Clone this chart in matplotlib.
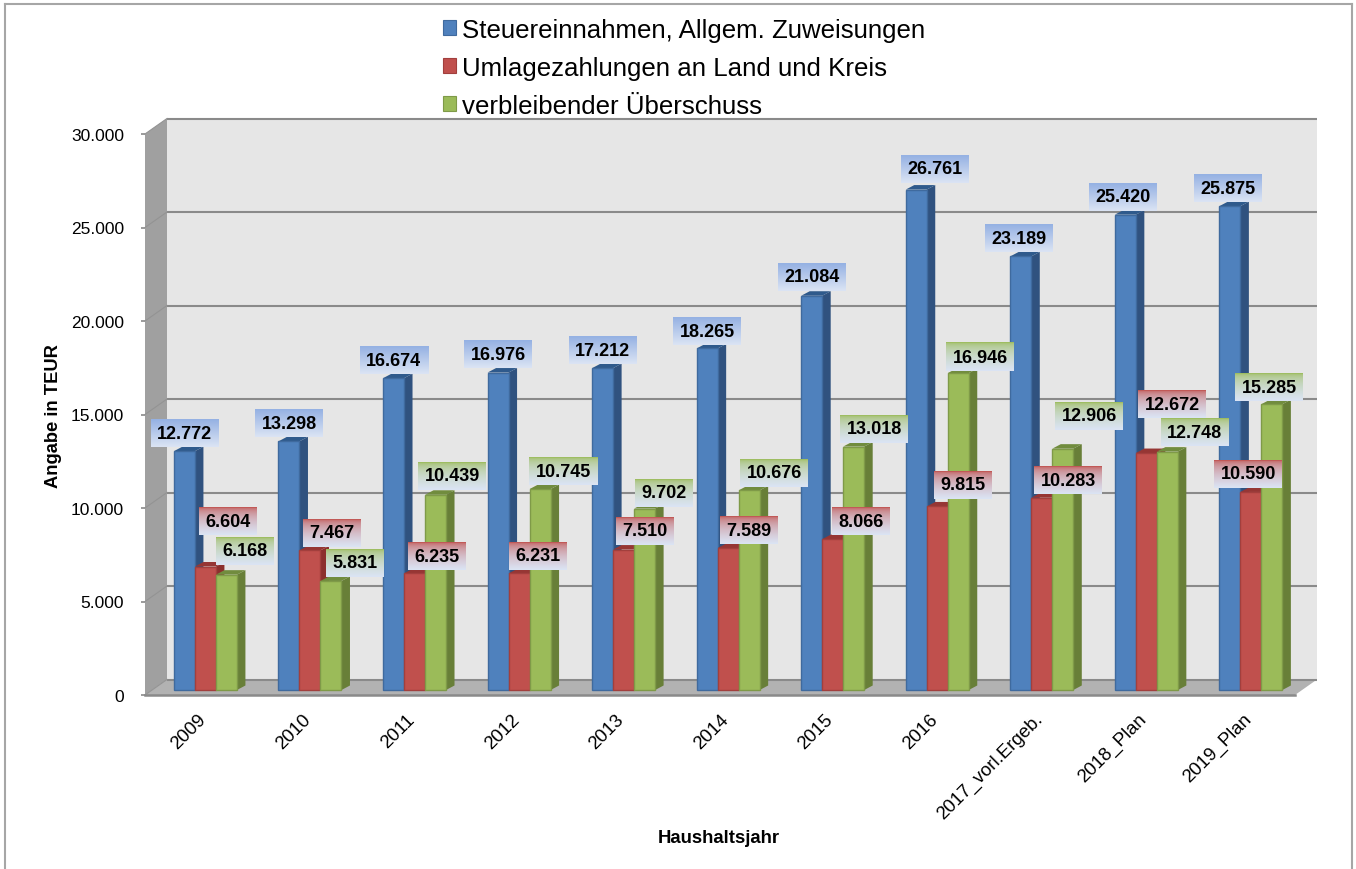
#!/usr/bin/env python3
"""Haushaltsjahr chart: three series as fake-3D bars with gradient value labels."""

import numpy as np
import matplotlib
matplotlib.use('Agg')
import matplotlib.pyplot as plt
from matplotlib.colors import to_rgb
from matplotlib.lines import Line2D
from matplotlib.patches import Patch

plt.rcParams['font.family'] = ['Liberation Sans', 'DejaVu Sans']

# ── Data ─────────────────────────────────────────────────────────────────────

years = ['2009', '2010', '2011', '2012', '2013', '2014', '2015', '2016',
         '2017_vorl.Ergeb.', '2018_Plan', '2019_Plan']
steuern = [12772, 13298, 16674, 16976, 17212, 18265, 21084, 26761, 23189, 25420, 25875]
umlagen = [6604, 7467, 6235, 6231, 7510, 7589, 8066, 9815, 10283, 12672, 10590]
ueberschuss = [6168, 5831, 10439, 10745, 9702, 10676, 13018, 16946, 12906, 12748, 15285]
series_names = ['Steuereinnahmen, Allgem. Zuweisungen',
                'Umlagezahlungen an Land und Kreis',
                'verbleibender Überschuss']
y_ticks = [0, 5000, 10000, 15000, 20000, 25000, 30000]
y_tick_labels = ['0', '5.000', '10.000', '15.000', '20.000', '25.000', '30.000']

# ── Layout (pixels unless noted) ─────────────────────────────────────────────

W, H = 1356, 870
LEFT, RIGHT, TOP, BOTTOM = 145, 1295, 135, 696
WALL_DX, WALL_DY = 22, 15.5
BAR_DX, BAR_DY = 8.5, 4.5
BAR_BASE = 5

FRONT = ['#4f81bd', '#c0504d', '#9bbb59']
EDGE = ['#3f6a9e', '#a23f3d', '#7f9a48']
SIDE = ['#30527f', '#8c2f2d', '#687f38']
CAP = ['#2f5a8c', '#963634', '#718c3e']
LABEL_TOP = ['#95b1e3', '#c0504d', '#9bbb59']
LABEL_BOTTOM = '#dbe4f4'

# label centre relative to the bar's top centre (moved by hand in the original)
label_dx = [
    [0.5, 0.5, 0, 0, 0, 0, 0, 19, -2, -2, -2],
    [22.5, 22, 22.5, 19, 21.5, 21, 28.5, 26, 26.5, 26, -2.5],
    [18.5, 24, 16.5, 23, 19.5, 25, 20.5, 22, 26.5, 27.5, -2.5],
]
label_dy = [
    [18, 18, 18, 18.5, 18, 17, 19, 21, 18, 18, 18],
    [45.5, 17.4, 17.4, 17.5, 18.6, 18, 18, 21.5, 17.7, 49, 18],
    [23.7, 18, 18.8, 18, 15.6, 17.4, 17.6, 16, 32.7, 19.6, 17],
]

fig = plt.figure(figsize=(W / 100, H / 100), dpi=100, facecolor='white')
ax = fig.add_axes([LEFT / W, (H - BOTTOM) / H, (RIGHT - LEFT) / W, (BOTTOM - TOP) / H])
ax.set_facecolor('none')
ax.set_xlim(-0.5, len(years) - 0.5)
ax.set_ylim(0, 30000)

px_x = (len(years)) / (RIGHT - LEFT)   # data units per pixel
px_y = 30000 / (BOTTOM - TOP)

# ── Walls and floor ──────────────────────────────────────────────────────────

x0, x1 = ax.get_xlim()
y0, y1 = ax.get_ylim()
wx, wy = WALL_DX * px_x, WALL_DY * px_y

ax.fill([x0 + wx, x1 + wx, x1 + wx, x0 + wx], [y0 + wy, y0 + wy, y1 + wy, y1 + wy],
        color='#e6e6e6', lw=0, clip_on=False, zorder=1)
ax.fill([x0, x0 + wx, x0 + wx, x0], [y0, y0 + wy, y1 + wy, y1],
        color='#a0a0a0', lw=0, clip_on=False, zorder=1)
ax.fill([x0, x1, x1 + wx, x0 + wx], [y0, y0, y0 + wy, y0 + wy],
        color='#b2b2b2', lw=0, clip_on=False, zorder=1)

for t in y_ticks:
    ax.plot([x0 + wx, x1 + wx], [t + wy, t + wy], color='#8a8a8a', lw=1.5,
            clip_on=False, zorder=2, solid_capstyle='butt')
    ax.plot([x0, x0 + wx], [t, t + wy], color='#939393', lw=0.8,
            clip_on=False, zorder=2)
ax.plot([x0, x1], [0, 0], color='#8a8a8a', lw=1.8, clip_on=False, zorder=2)

# ── Bars ─────────────────────────────────────────────────────────────────────

bar_w = 21 * px_x
shift = 0.078
base = BAR_BASE * px_y
dx, dy = BAR_DX * px_x, BAR_DY * px_y
all_values = [steuern, umlagen, ueberschuss]

z = 3
bar_pos = np.arange(len(years), dtype=float)
for i in range(len(years)):
    for s, values in enumerate(all_values):
        xc = bar_pos[i] + (s - 1) * bar_w + shift
        top = base + values[i]
        xl, xr = xc - bar_w / 2, xc + bar_w / 2
        ax.fill([xr, xr + dx, xr + dx, xr], [base, base + dy, top + dy, top],
                color=SIDE[s], lw=0, zorder=z)
        ax.fill([xl, xr, xr + dx, xl + dx], [top, top, top + dy, top + dy],
                color=CAP[s], lw=0, zorder=z)
        ax.bar(xc, values[i], width=bar_w, bottom=base, color=FRONT[s],
               edgecolor=EDGE[s], linewidth=1, zorder=z + 0.5)
        z += 1

# ── Value labels with gradient boxes ─────────────────────────────────────────

BOX_H = 28
label_z = 100
for s, values in enumerate(all_values):
    c_top = np.array(to_rgb(LABEL_TOP[s]))
    c_bot = np.array(to_rgb(LABEL_BOTTOM))
    power = 1.0 if s == 0 else 0.45
    t = np.linspace(0, 1, 40)[:, None] ** power
    grad = (c_top * (1 - t) + c_bot * t)[:, None, :]
    for i, v in enumerate(values):
        xc = bar_pos[i] + (s - 1) * bar_w + shift + label_dx[s][i] * px_x
        yc = base + v + label_dy[s][i] * px_y
        txt = f'{v:,}'.replace(',', '.')
        box_w = (68 if len(txt) > 5 else 58) * px_x
        ax.imshow(grad, extent=[xc - box_w / 2, xc + box_w / 2,
                                yc - BOX_H / 2 * px_y, yc + BOX_H / 2 * px_y],
                  aspect='auto', origin='upper', interpolation='bilinear',
                  zorder=label_z, clip_on=False)
        ax.text(xc, yc, txt, ha='center', va='center', fontsize=13,
                fontweight='bold', color='black', zorder=label_z + 1)
        label_z += 2

ax.set_xlim(x0, x1)
ax.set_ylim(y0, y1)

# ── Axes, ticks, labels ──────────────────────────────────────────────────────

for spine in ax.spines.values():
    spine.set_visible(False)
ax.set_yticks(y_ticks)
ax.set_yticklabels(y_tick_labels, fontsize=12.5)
ax.tick_params(axis='y', length=3, width=1.2, color='#8a8a8a', pad=12)
ax.set_xticks(bar_pos)
ax.set_xticklabels(years, fontsize=13.4, rotation=45, ha='right', va='top',
                   rotation_mode='anchor')
ax.tick_params(axis='x', length=0, pad=11)

fig.text(53 / W, 1 - 416 / H, 'Angabe in TEUR', rotation=90, ha='center', va='center',
         fontsize=13.2, fontweight='bold')
fig.text(719 / W, 1 - 839 / H, 'Haushaltsjahr', ha='center', va='center',
         fontsize=13.4, fontweight='bold')

handles = [Patch(facecolor=FRONT[k], edgecolor=EDGE[k], linewidth=0.8) for k in range(3)]
fig.legend(handles, series_names, loc='upper left', frameon=False,
           bbox_to_anchor=(443 / W, 1 - 19 / H), borderaxespad=0, borderpad=0,
           fontsize=18.6, handlelength=0.5, handleheight=0.5, handletextpad=0.23,
           labelspacing=0.54)

# chart frame, open at the bottom
for xs, ys in [((5, 5), (5, H)), ((5, 1352), (5, 5)), ((1352, 1352), (5, H))]:
    fig.add_artist(Line2D([x / W for x in xs], [1 - y / H for y in ys],
                          color='#a6a6a6', lw=1.5))

fig.savefig('out.png', dpi=100)
plt.close(fig)
